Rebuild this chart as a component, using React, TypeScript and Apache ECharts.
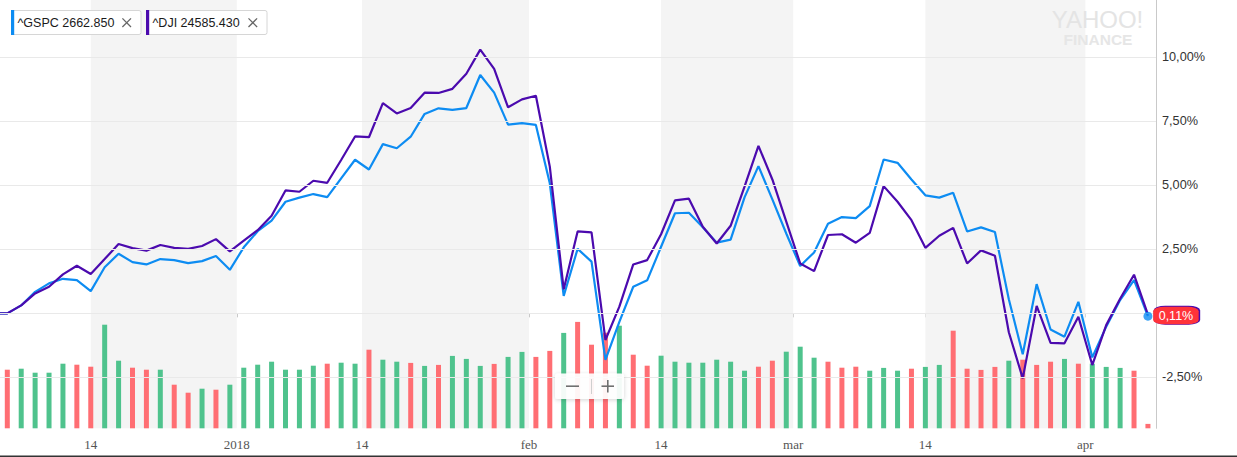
import React, { useEffect, useRef } from "react";
import * as echarts from "echarts";

// ---------- data ----------
const dates: string[] = [
  "2017-12-05", "2017-12-06", "2017-12-07", "2017-12-08", "2017-12-11", "2017-12-12", "2017-12-13", "2017-12-14", "2017-12-15",
  "2017-12-18", "2017-12-19", "2017-12-20", "2017-12-21", "2017-12-22", "2017-12-26", "2017-12-27", "2017-12-28", "2017-12-29",
  "2018-01-02", "2018-01-03", "2018-01-04", "2018-01-05", "2018-01-08", "2018-01-09", "2018-01-10", "2018-01-11", "2018-01-12",
  "2018-01-16", "2018-01-17", "2018-01-18", "2018-01-19", "2018-01-22", "2018-01-23", "2018-01-24", "2018-01-25", "2018-01-26",
  "2018-01-29", "2018-01-30", "2018-01-31",
  "2018-02-01", "2018-02-02", "2018-02-05", "2018-02-06", "2018-02-07", "2018-02-08", "2018-02-09", "2018-02-12", "2018-02-13",
  "2018-02-14", "2018-02-15", "2018-02-16", "2018-02-20", "2018-02-21", "2018-02-22", "2018-02-23", "2018-02-26", "2018-02-27",
  "2018-02-28",
  "2018-03-01", "2018-03-02", "2018-03-05", "2018-03-06", "2018-03-07", "2018-03-08", "2018-03-09", "2018-03-12", "2018-03-13",
  "2018-03-14", "2018-03-15", "2018-03-16", "2018-03-19", "2018-03-20", "2018-03-21", "2018-03-22", "2018-03-23", "2018-03-26",
  "2018-03-27", "2018-03-28", "2018-03-29",
  "2018-04-02", "2018-04-03", "2018-04-04", "2018-04-05", "2018-04-06",
];

// % change since start
const gspc: number[] = [
  0, 0.0, 0.31, 0.84, 1.17, 1.35, 1.3, 0.87, 1.8, 2.33, 2.0, 1.91, 2.12, 2.08, 1.96, 2.04, 2.24, 1.7,
  2.58, 3.21, 3.62, 4.36, 4.52, 4.66, 4.54, 5.27, 6.0, 5.62, 6.61, 6.45, 6.9, 7.79, 8.01, 7.95, 8.02, 9.31,
  8.62, 7.37, 7.43, 7.36, 5.08, 0.68, 2.52, 2.02, -1.82, -0.33, 1.04, 1.29, 2.6, 3.91, 3.93, 3.36, 2.76, 2.88,
  4.53, 5.75, 4.45, 3.12, 1.85, 2.38, 3.5, 3.76, 3.72, 4.19, 6.01, 5.88, 5.23, 4.61, 4.52, 4.71, 3.2, 3.36,
  3.18, 0.55, -1.6, 1.14, -0.63, -0.91, 0.45, -1.72, -0.52, 0.52, 1.3, -0.11,
];

const dji: number[] = [
  0, 0.0, 0.31, 0.78, 1.04, 1.52, 1.86, 1.54, 2.12, 2.71, 2.55, 2.45, 2.67, 2.56, 2.52, 2.63, 2.9, 2.42,
  2.84, 3.25, 3.81, 4.8, 4.75, 5.18, 5.1, 5.99, 6.91, 6.88, 8.21, 7.81, 8.02, 8.62, 8.61, 8.77, 9.36, 10.3,
  9.55, 8.05, 8.36, 8.5, 5.73, 0.94, 3.2, 3.16, -1.04, 0.26, 1.91, 2.08, 3.09, 4.41, 4.48, 3.38, 2.73, 3.42,
  4.95, 6.54, 5.23, 3.58, 1.95, 1.65, 3.06, 3.09, 2.76, 3.14, 4.97, 4.36, 3.64, 2.56, 3.03, 3.34, 1.95, 2.46,
  2.25, -0.74, -2.54, 0.29, -1.15, -1.17, -0.13, -2.02, -0.46, 0.57, 1.51, -0.05,
];

// volume (billions of shares)
const volume: number[] = [
  3.0, 2.93, 2.98, 2.78, 2.78, 3.23, 3.18, 3.08, 5.18, 3.38, 3.03, 2.93, 2.93, 2.18, 1.78, 1.98, 1.93, 2.18,
  3.03, 3.18, 3.33, 2.93, 2.93, 3.13, 3.23, 3.28, 3.23, 3.93, 3.43, 3.33, 3.27, 3.12, 3.17, 3.62, 3.47, 3.12,
  3.22, 3.57, 3.82, 3.57, 3.87, 4.77, 5.32, 4.18, 4.78, 5.13, 3.68, 3.13, 3.63, 3.33, 3.28, 3.28, 3.43, 3.33,
  2.88, 3.08, 3.38, 3.83, 4.08, 3.53, 3.33, 3.03, 3.08, 2.88, 3.02, 2.88, 2.98, 3.07, 3.17, 4.88, 2.98, 2.92,
  3.07, 3.38, 3.43, 3.17, 3.33, 3.47, 3.23, 3.23, 3.07, 3.02, 2.88, 0.22,
];

// day direction: u = up (green), d = down (red)
const direction: string[] = (
  "u" +
  "duuuudduudduddu" +
  "duuuuuuuduuduududuu" +
  "uduudduddduddu" +
  "uuuuuudduuudddu" +
  "uuduudddduddduduuud" +
  "d"
).split("");

const tickDates = ["2017-12-14", "2018-01-01", "2018-01-14", "2018-02-01", "2018-02-14", "2018-03-01", "2018-03-14", "2018-04-01"];
const tickLabels = ["14", "2018", "14", "feb", "14", "mar", "14", "apr"];
const shadeFrom = ["2017-12-14", "2018-01-14", "2018-02-14", "2018-03-14"];
const shadeTo = ["2018-01-01", "2018-02-01", "2018-03-01", "2018-04-01"];

const yLabelValues = [-2.5, 2.5, 5, 7.5, 10];
const gridValues = [-2.5, 0, 2.5, 5, 7.5, 10];

const legendNames = ["^GSPC", "^DJI"];
const legendPrices = ["2662.850", "24585.430"];
const tagLabel = "0,11%";

// ---------- styling ----------
const BLUE = "#0d8cf2";
const PURPLE = "#4b0aae";
const GREEN = "#4fc38d";
const RED = "#ff6e73";
const SANS = 'Arial, "Liberation Sans", sans-serif';
const SERIF = '"Times New Roman", "Liberation Serif", serif';

function datePos(d: string): number {
  const i = dates.findIndex((x) => x >= d);
  const isFirst = d.slice(8) === "01";
  return dates[i] === d && !isFirst ? i : i - 0.5;
}

const tickPositions = tickDates.map(datePos);

function pctFmt(v: number): string {
  return v.toFixed(2).replace(".", ",") + "%";
}

function withZ(el: any, z: number): any {
  const out = { ...el, z };
  if (el.children) out.children = el.children.map((c: any) => withZ(c, z));
  return out;
}

export default function App() {
  const ref = useRef<HTMLDivElement>(null);

  useEffect(() => {
    if (!ref.current) return;
    const chart = echarts.init(ref.current, undefined, { renderer: "svg" });

    const last = gspc.length - 1;

    const legendBox = (x: number, w: number, color: string, text: string, xc: number) => ({
      type: "group",
      children: [
        {
          type: "rect",
          shape: { x: x + 0.5, y: 10.5, width: w, height: 24, r: 2 },
          style: { fill: "#fff", stroke: "#d6d6d6", lineWidth: 1 },
        },
        { type: "rect", shape: { x: x, y: 10, width: 3.2, height: 25 }, style: { fill: color } },
        {
          type: "text",
          x: x + 6.5,
          y: 23,
          style: { text, fill: "#1a1a1a", font: `12.5px ${SANS}`, verticalAlign: "middle", align: "left" },
        },
        { type: "line", shape: { x1: xc - 4.3, y1: 18.4, x2: xc + 4.3, y2: 27 }, style: { stroke: "#666", lineWidth: 1.3 } },
        { type: "line", shape: { x1: xc - 4.3, y1: 27, x2: xc + 4.3, y2: 18.4 }, style: { stroke: "#666", lineWidth: 1.3 } },
      ],
    });

    const graphics = [
      legendBox(11, 129.5, BLUE, `${legendNames[0]} ${legendPrices[0]}`, 126.7),
      legendBox(146, 120.5, PURPLE, `${legendNames[1]} ${legendPrices[1]}`, 252.8),
      {
        type: "text",
        x: 1097.5,
        y: 19,
        style: { text: "YAHOO!", fill: "#e4e4e4", font: `24px ${SANS}`, align: "center", verticalAlign: "middle" },
      },
      {
        type: "text",
        x: 1098,
        y: 39,
        style: { text: "FINANCE", fill: "#e6e6e6", font: `bold 15.5px ${SANS}`, align: "center", verticalAlign: "middle" },
      },
      {
        type: "group",
        children: [
          {
            type: "rect",
            shape: { x: 555, y: 373.5, width: 69, height: 25.5, r: 3 },
            style: { fill: "rgba(255,255,255,0.93)", shadowBlur: 4, shadowColor: "rgba(0,0,0,0.18)", shadowOffsetY: 1 },
          },
          { type: "line", shape: { x1: 566, y1: 386.2, x2: 579, y2: 386.2 }, style: { stroke: "#707070", lineWidth: 1.6 } },
          { type: "line", shape: { x1: 591.5, y1: 379, x2: 591.5, y2: 394 }, style: { stroke: "#cfcfcf", lineWidth: 1 } },
          { type: "line", shape: { x1: 601.5, y1: 386.2, x2: 614, y2: 386.2 }, style: { stroke: "#707070", lineWidth: 1.6 } },
          { type: "line", shape: { x1: 607.8, y1: 380, x2: 607.8, y2: 392.4 }, style: { stroke: "#707070", lineWidth: 1.6 } },
        ],
      },
      {
        type: "rect",
        shape: { x: 0, y: 455.6, width: 1237, height: 1.4 },
        style: { fill: "#333" },
      },
    ].map((g) => withZ(g, 100));

    const option: any = {
      animation: false,
      backgroundColor: "#fff",
      grid: { left: 0, right: 81, top: 0, bottom: 28.7, containLabel: false },
      xAxis: {
        type: "value",
        min: 0.475,
        max: 83.58,
        axisLine: { show: true, lineStyle: { color: "#c9c9c9", width: 1 } },
        axisTick: { show: true, length: 4, customValues: tickPositions, lineStyle: { color: "#c9c9c9" } },
        axisLabel: {
          customValues: tickPositions,
          margin: 10,
          color: "#555",
          fontFamily: SERIF,
          fontSize: 13,
          formatter: (v: number) => {
            const k = tickPositions.findIndex((p) => Math.abs(p - v) < 1e-6);
            return k >= 0 ? tickLabels[k] : "";
          },
        },
        splitLine: { show: false },
      },
      yAxis: [
        {
          type: "value",
          position: "right",
          min: -4.49,
          max: 12.24,
          axisLine: { show: true, lineStyle: { color: "#c9c9c9", width: 1 } },
          axisTick: { show: false },
          splitLine: { show: false },
          axisLabel: {
            customValues: yLabelValues,
            margin: 6,
            color: "#333",
            fontFamily: SANS,
            fontSize: 12.7,
            formatter: (v: number) => pctFmt(v),
          },
        },
        {
          type: "value",
          min: 0,
          max: 21.415,
          show: false,
          splitLine: { show: false },
        },
      ],
      series: [
        {
          type: "line",
          name: "bg",
          z: 1,
          silent: true,
          symbol: "none",
          data: [[1, 0]],
          lineStyle: { opacity: 0 },
          markArea: {
            silent: true,
            itemStyle: { color: "#f4f4f4" },
            data: shadeFrom.map((d, i) => [{ xAxis: datePos(d) }, { xAxis: datePos(shadeTo[i]) }]),
          },
          markLine: {
            silent: true,
            symbol: ["none", "none"],
            label: { show: false },
            lineStyle: { color: "#e9e9e9", width: 1, type: "solid" },
            data: gridValues.map((v) => ({ yAxis: v })),
          },
        },
        {
          type: "bar",
          name: "Volume",
          yAxisIndex: 1,
          z: 2,
          barWidth: 5,
          data: volume.map((v, i) => ({
            value: [i, v],
            itemStyle: { color: direction[i] === "u" ? GREEN : RED },
          })),
        },
        {
          type: "line",
          name: "^GSPC",
          z: 3,
          symbol: "none",
          lineStyle: { color: BLUE, width: 2.2 },
          data: gspc.map((v, i) => [i, v]),
        },
        {
          type: "line",
          name: "^DJI",
          z: 4,
          symbol: "none",
          lineStyle: { color: PURPLE, width: 2.2 },
          data: dji.map((v, i) => [i, v]),
        },
        {
          type: "scatter",
          name: "last",
          z: 6,
          clip: false,
          symbol: "circle",
          symbolSize: 9,
          itemStyle: { color: BLUE },
          data: [[last, gspc[last]]],
          markPoint: {
            silent: true,
            data: [
              {
                coord: [last, gspc[last]],
                symbol: "roundRect",
                symbolSize: [46.5, 19],
                symbolOffset: [29, -1],
                itemStyle: { color: PURPLE },
                label: { show: false },
              },
              {
                coord: [last, gspc[last]],
                symbol: "roundRect",
                symbolSize: [45.5, 17.6],
                symbolOffset: [28, -0.6],
                itemStyle: { color: "#ff333a" },
                label: {
                  show: true,
                  position: "inside",
                  formatter: tagLabel,
                  color: "#fff",
                  fontFamily: SANS,
                  fontSize: 12.5,
                },
              },
            ],
          },
        },
      ],
      graphic: graphics,
    };

    chart.setOption(option);
    return () => chart.dispose();
  }, []);

  return (
    <div
      ref={ref}
      style={{ position: "fixed", left: 0, top: 0, width: 1237, height: 457, background: "#fff" }}
    />
  );
}
